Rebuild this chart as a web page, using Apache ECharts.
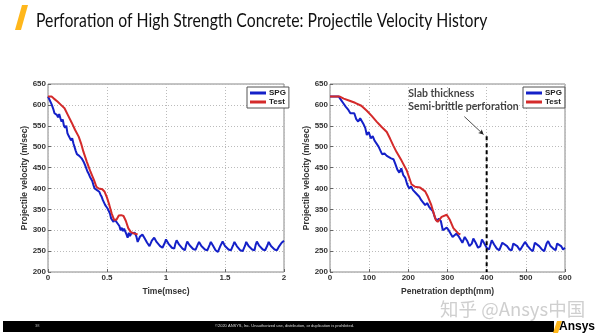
<!DOCTYPE html>
<html><head><meta charset="utf-8">
<script src="https://cdn.jsdelivr.net/npm/echarts@6/dist/echarts.min.js"></script>
<style>html,body{margin:0;padding:0;background:#fff}#c{width:600px;height:336px}</style>
</head><body><div id="c"></div>
<script>
// ---- data ----
const titleText = 'Perforation of High Strength Concrete: Projectile Velocity History';
const yTicks = [200, 650, 50];           // min, max, interval
const timeTicks = [0, 2, 0.5];
const depthTicks = [0, 600, 100];
const yName = 'Projectile velocity (m/sec)';
const timeName = 'Time(msec)';
const depthName = 'Penetration depth(mm)';
const seriesNames = ['SPG', 'Test'];

const spgTime = [[0,620],[0.015,618],[0.03,602],[0.045,590],[0.055,580],[0.065,584],[0.075,576],[0.085,570],[0.095,578],[0.105,568],[0.115,560],[0.125,565],[0.135,550],[0.145,545],[0.155,550],[0.165,532],[0.175,526],[0.185,530],[0.195,515],[0.205,520],[0.215,508],[0.225,505],[0.235,490],[0.245,482],[0.255,484],[0.265,478],[0.275,480],[0.285,472],[0.295,476],[0.305,462],[0.315,455],[0.325,458],[0.335,440],[0.345,435],[0.355,428],[0.365,432],[0.375,418],[0.385,408],[0.395,400],[0.405,404],[0.415,396],[0.425,398],[0.435,392],[0.445,385],[0.455,380],[0.465,372],[0.475,366],[0.485,360],[0.495,364],[0.505,352],[0.515,356],[0.525,340],[0.535,328],[0.545,332],[0.555,320],[0.565,326],[0.575,330],[0.585,318],[0.595,322],[0.605,310],[0.615,300],[0.625,306],[0.635,298],[0.645,304],[0.655,300],[0.665,290],[0.675,282],[0.685,294],[0.695,286],[0.705,292],[0.72,288],[0.735,294],[0.75,284],[0.76,272],[0.78,285],[0.8,290],[0.82,280],[0.84,270],[0.86,262],[0.88,275],[0.9,282],[0.92,272],[0.95,262],[0.97,258],[0.99,270],[1.0,278],[1.02,268],[1.05,258],[1.07,256],[1.08,268],[1.09,276],[1.11,266],[1.14,256],[1.16,252],[1.17,264],[1.18,273],[1.2,264],[1.23,255],[1.25,253],[1.27,266],[1.28,272],[1.3,262],[1.33,254],[1.35,252],[1.37,265],[1.38,272],[1.4,262],[1.42,252],[1.44,248],[1.46,262],[1.48,273],[1.5,262],[1.53,254],[1.55,252],[1.57,265],[1.58,272],[1.6,262],[1.63,252],[1.65,250],[1.67,263],[1.68,272],[1.7,262],[1.73,254],[1.75,252],[1.76,265],[1.77,273],[1.79,263],[1.82,254],[1.84,252],[1.86,264],[1.87,272],[1.89,262],[1.92,254],[1.94,252],[1.96,262],[1.98,270],[2.0,275]];
const testTime = [[0,620],[0.03,620],[0.05,615],[0.08,608],[0.11,600],[0.14,592],[0.17,575],[0.2,558],[0.23,540],[0.26,524],[0.28,508],[0.3,488],[0.33,463],[0.36,440],[0.39,420],[0.41,404],[0.43,400],[0.46,398],[0.48,392],[0.5,378],[0.52,360],[0.54,340],[0.56,325],[0.58,325],[0.6,335],[0.62,336],[0.64,334],[0.66,322],[0.68,305],[0.7,296],[0.73,292],[0.76,290]];

const spgDepth = [[0,620],[22,620],[28,612],[34,604],[40,596],[47,588],[52,580],[57,576],[62,580],[67,566],[72,560],[77,568],[81,572],[85,555],[90,545],[94,528],[99,535],[104,520],[109,525],[114,514],[119,516],[124,500],[129,490],[133,482],[139,484],[145,478],[150,480],[156,472],[162,470],[167,458],[172,445],[177,438],[182,448],[187,432],[192,426],[197,410],[202,400],[207,405],[212,396],[217,400],[222,386],[228,380],[233,372],[238,366],[243,360],[248,365],[253,356],[258,352],[263,345],[268,330],[273,322],[278,328],[283,322],[288,300],[293,296],[298,306],[303,300],[308,302],[313,284],[318,280],[323,292],[328,286],[333,290],[338,270],[344,284],[350,275],[356,262],[362,268],[366,280],[372,270],[378,258],[384,262],[388,278],[394,268],[400,258],[406,254],[413,276],[419,266],[426,256],[432,252],[440,270],[445,274],[452,262],[458,254],[464,252],[468,268],[472,272],[478,262],[485,252],[490,250],[494,266],[498,272],[505,262],[512,254],[518,250],[523,270],[528,274],[534,262],[541,254],[547,250],[553,268],[557,274],[563,262],[570,256],[576,252],[580,268],[584,272],[590,262],[595,254],[600,258]];
const testDepth = [[0,620],[25,620],[35,615],[50,610],[64,605],[80,598],[94,586],[107,573],[119,560],[132,547],[145,535],[153,520],[162,502],[170,487],[183,466],[196,443],[208,410],[217,404],[230,402],[243,393],[250,380],[258,362],[265,340],[270,325],[275,320],[285,332],[298,337],[306,325],[315,305],[328,292],[333,290]];

const slabLine = [[400,525],[400,200]];
const arrowLine = [[343,572],[392,529]];
const annotPos = [200, 612];
const annotLines = ['Slab thickness', 'Semi-brittle perforation'];
const footerText = '©2020 ANSYS, Inc. Unauthorized use, distribution, or duplication is prohibited.';
const pageNo = '38';
const watermark = '知乎 @Ansys中国';

// ---- chart ----
const chart = echarts.init(document.getElementById('c'), null, {renderer:'canvas'});
const FONT = 'Liberation Sans, Arial, sans-serif';
const blue = '#1420c8', red = '#d42a2a';

function xAxis(idx, ticks, name, fmt){
  return {
    type:'value', gridIndex: idx, min: ticks[0], max: ticks[1], interval: ticks[2],
    name: name, nameLocation:'middle', nameGap: 9,
    nameTextStyle:{fontFamily:FONT, fontWeight:'bold', fontSize:8.5, color:'#333'},
    axisLine:{show:false}, axisTick:{show:true, inside:true, length:3, lineStyle:{color:'#666'}},
    axisLabel:{fontFamily:FONT, fontWeight:'bold', fontSize:8, color:'#333', margin:2, formatter: fmt},
    splitLine:{show:true, lineStyle:{type:[1,2], color:'#bbb', width:1}}
  };
}
function yAxis(idx){
  return {
    type:'value', gridIndex: idx, min: yTicks[0], max: yTicks[1], interval: yTicks[2],
    name: yName, nameLocation:'middle', nameGap: 17,
    nameTextStyle:{fontFamily:FONT, fontWeight:'bold', fontSize:8.5, color:'#333'},
    axisLine:{show:false}, axisTick:{show:true, inside:true, length:3, lineStyle:{color:'#666'}},
    axisLabel:{fontFamily:FONT, fontWeight:'bold', fontSize:8, color:'#333', margin:2},
    splitLine:{show:true, lineStyle:{type:[1,2], color:'#bbb', width:1}}
  };
}
function legend(left){
  return {
    left: left, top: 87, orient:'vertical', data: seriesNames,
    icon:'rect', itemWidth:16, itemHeight:3, itemGap:1,
    padding:[2,3,2,3], borderColor:'#555', borderWidth:1, backgroundColor:'#fff',
    textStyle:{fontFamily:FONT, fontWeight:'bold', fontSize:8, color:'#222', padding:[0,0,0,-2]}
  };
}
function line(name, data, xi, color){
  return {name, type:'line', xAxisIndex:xi, yAxisIndex:xi, data, showSymbol:false, symbol:'none',
    lineStyle:{color, width:2}, itemStyle:{color}, silent:true, animation:false};
}

const option = {
  animation:false,
  backgroundColor:'#fff',
  grid:[
    {left:48, top:84, width:236, height:188, show:true, borderColor:'#888', borderWidth:1, backgroundColor:'#fff'},
    {left:330, top:84, width:235, height:188, show:true, borderColor:'#888', borderWidth:1, backgroundColor:'#fff'}
  ],
  xAxis:[xAxis(0, timeTicks, timeName, v => String(v)), xAxis(1, depthTicks, depthName)],
  yAxis:[yAxis(0), yAxis(1)],
  legend:[legend(247), legend(523)],
  series:[
    line(seriesNames[0], spgTime, 0, blue),
    line(seriesNames[1], testTime, 0, red),
    line(seriesNames[0], spgDepth, 1, blue),
    line(seriesNames[1], testDepth, 1, red),
    {type:'line', xAxisIndex:1, yAxisIndex:1, data:slabLine, symbol:'none', silent:true,
      lineStyle:{color:'#000', width:2, type:[4,3]}},
    {type:'scatter', xAxisIndex:1, yAxisIndex:1, data:[annotPos], symbolSize:0, silent:true,
      label:{show:true, position:'right', distance:0, formatter: annotLines.join('\n'),
        fontFamily:'Lato, sans-serif', fontWeight:'bold', fontSize:10.5, lineHeight:13, color:'#111'},
      markLine:{silent:true, symbol:['none','arrow'], symbolSize:[4,5], label:{show:false},
        lineStyle:{color:'#222', width:0.8, type:'solid'},
        data:[[{coord:arrowLine[0]},{coord:arrowLine[1]}]]}}
  ],
  graphic:[
    {type:'polygon', shape:{points:[[22,5],[28,5],[21,30],[15,30]]}, style:{fill:'#FFB71B'}},
    {type:'text', x:36, y:11, scaleX:0.83, style:{text:titleText, font:'19px Lato, sans-serif', fill:'#111'}},
    {type:'text', left:440, top:300, style:{text:watermark, font:'18.5px "Noto Sans CJK SC", sans-serif', fill:'#cfcfcf'}},
    {type:'rect', shape:{x:3, y:321, width:551, height:11}, style:{fill:'#000'}},
    {type:'text', left:35, top:324, style:{text:pageNo, font:'4px sans-serif', fill:'#aaa'}},
    {type:'text', left:215, top:324, style:{text:footerText, font:'4px Liberation Sans, sans-serif', fill:'#ddd'}},
    {type:'polygon', shape:{points:[[557,321],[562,321],[558,333],[553,333]]}, style:{fill:'#FFB71B'}},
    {type:'text', left:559, top:321, style:{text:'Ansys', font:'bold 12px Liberation Sans, sans-serif', fill:'#000'}}
  ]
};
chart.setOption(option);
</script></body></html>
